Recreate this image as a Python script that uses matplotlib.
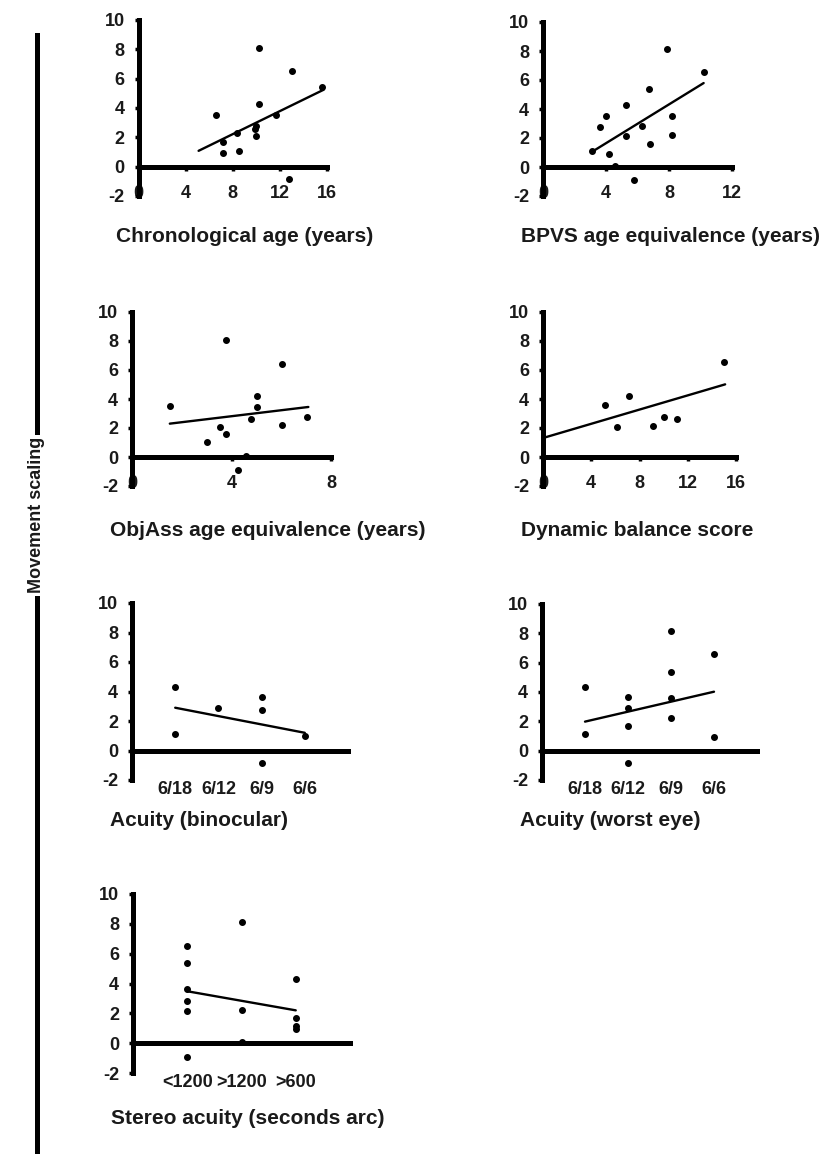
import matplotlib
matplotlib.use("Agg")
import matplotlib.pyplot as plt
from matplotlib.lines import Line2D

plt.rcParams['font.family'] = ['Liberation Sans', 'DejaVu Sans']
plt.rcParams['font.weight'] = 'bold'
plt.rcParams['axes.unicode_minus'] = False

# ---------------- data ----------------
y_label = "Movement scaling"

p1_label = "Chronological age (years)"
p1_x = [6.6, 7.2, 7.2, 8.4, 8.5, 10.2, 10.2, 10.0, 10.0, 9.9, 11.7, 13.0, 12.8, 15.6]
p1_y = [3.5, 0.9, 1.65, 2.3, 1.1, 8.1, 4.3, 2.1, 2.8, 2.6, 3.5, 6.5, -0.85, 5.4]
p1_fit_x = [5.1, 15.7]
p1_fit_y = [1.08, 5.24]
p1_ticks = [0, 4, 8, 12, 16]

p2_label = "BPVS age equivalence (years)"
p2_x = [3.1, 3.6, 4.0, 4.2, 5.3, 5.3, 5.8, 6.3, 6.7, 6.8, 7.9, 8.2, 8.2, 10.2, 4.6]
p2_y = [1.09, 2.75, 3.54, 0.88, 4.26, 2.13, -0.93, 2.82, 5.37, 1.62, 8.15, 3.54, 2.24, 6.53, 0.1]
p2_fit_x = [3.1, 10.2]
p2_fit_y = [1.04, 5.79]
p2_ticks = [0, 4, 8, 12]

p3_label = "ObjAss age equivalence (years)"
p3_x = [1.54, 3.03, 3.53, 3.77, 3.77, 4.27, 4.77, 5.03, 5.03, 6.03, 6.03, 7.02, 4.6]
p3_y = [3.52, 1.03, 2.05, 8.1, 1.59, -0.92, 2.64, 4.18, 3.45, 6.41, 2.23, 2.74, 0.1]
p3_fit_x = [1.52, 7.09]
p3_fit_y = [2.30, 3.45]
p3_ticks = [0, 4, 8]

p4_label = "Dynamic balance score"
p4_x = [5.1, 6.1, 7.1, 9.1, 10.0, 11.1, 15.0]
p4_y = [3.56, 2.05, 4.23, 2.16, 2.74, 2.64, 6.55]
p4_fit_x = [0.0, 15.1]
p4_fit_y = [1.31, 5.01]
p4_ticks = [0, 4, 8, 12, 16]

acuity_cats = ["6/18", "6/12", "6/9", "6/6"]

p5_label = "Acuity (binocular)"
p5_x = [1, 1, 2, 3, 3, 3, 4]
p5_y = [4.3, 1.1, 2.85, 3.6, 2.76, -0.86, 0.95]
p5_fit_x = [1, 4]
p5_fit_y = [2.9, 1.2]

p6_label = "Acuity (worst eye)"
p6_x = [1, 1, 2, 2, 2, 2, 3, 3, 3, 3, 4, 4]
p6_y = [4.32, 1.11, 3.64, 2.89, 1.7, -0.86, 8.18, 5.39, 3.57, 2.2, 6.59, 0.95]
p6_fit_x = [1, 4]
p6_fit_y = [1.98, 4.02]

stereo_cats = ["<1200", ">1200", ">600"]

p7_label = "Stereo acuity (seconds arc)"
p7_x = [1, 1, 1, 1, 1, 1, 2, 2, 2, 3, 3, 3, 3]
p7_y = [6.52, 5.35, 3.6, 2.83, 2.13, -0.9, 8.09, 2.25, 0.1, 4.29, 1.71, 1.15, 0.97]
p7_fit_x = [1, 3]
p7_fit_y = [3.48, 2.2]

y_ticks = [-2, 0, 2, 4, 6, 8, 10]

# ---------------- layout ----------------
W, H = 840, 1154
fig = plt.figure(figsize=(W / 100, H / 100), dpi=100)
TXT = '#1a1a1a'
SPW = 3.6

def make_panel(spine_px, right_px, top_px, bot_px, xlim, xs, ys, fx, fy,
               ticks, ticklabels, label, label_y_px, cat):
    wpx = right_px - spine_px
    hpx = bot_px - top_px
    ax = fig.add_axes([spine_px / W, 1 - bot_px / H, wpx / W, hpx / H])
    ax.set_xlim(*xlim)
    ax.set_ylim(-2, 10)
    ax.patch.set_visible(False)
    for s in ['right', 'bottom']:
        ax.spines[s].set_visible(False)
    ax.spines['left'].set_linewidth(SPW)
    ax.spines['top'].set_position(('data', 0))
    ax.spines['top'].set_linewidth(SPW)
    ax.set_yticks(y_ticks)
    ax.tick_params(axis='y', direction='out', length=3, width=2.5, pad=7,
                   labelsize=13, labelcolor=TXT)
    ax.set_xticks(ticks)
    ax.set_xticklabels(ticklabels)
    ax.tick_params(axis='x', which='both', bottom=False, top=not cat,
                   labeltop=False, labelbottom=True, direction='in',
                   length=3, width=2.5, labelsize=13, labelcolor=TXT,
                   pad=(1 if cat else -8))
    ax.plot(xs, ys, 'o', color='black', ms=4, mec='black', zorder=2, clip_on=False)
    ax.plot(fx, fy, '-', color='black', lw=1.7, zorder=2, solid_capstyle='round')
    ax.text(-22 / wpx, -(label_y_px - bot_px) / hpx, label, transform=ax.transAxes,
            ha='left', va='center', fontsize=15, color=TXT, fontweight='bold')
    return ax

make_panel(138.5, 327, 20, 196, (0, 16), p1_x, p1_y, p1_fit_x, p1_fit_y,
           p1_ticks, [str(t) for t in p1_ticks], p1_label, 237, False)
make_panel(543, 732, 22, 196, (0, 12), p2_x, p2_y, p2_fit_x, p2_fit_y,
           p2_ticks, [str(t) for t in p2_ticks], p2_label, 237, False)
make_panel(132, 331, 312, 486, (0, 8), p3_x, p3_y, p3_fit_x, p3_fit_y,
           p3_ticks, [str(t) for t in p3_ticks], p3_label, 530, False)
make_panel(543, 736, 312, 486, (0, 16), p4_x, p4_y, p4_fit_x, p4_fit_y,
           p4_ticks, [str(t) for t in p4_ticks], p4_label, 530, False)
make_panel(132, 348, 603, 780, (0, 5), p5_x, p5_y, p5_fit_x, p5_fit_y,
           [1, 2, 3, 4], acuity_cats, p5_label, 821, True)
make_panel(542, 757, 604, 780, (0, 5), p6_x, p6_y, p6_fit_x, p6_fit_y,
           [1, 2, 3, 4], acuity_cats, p6_label, 821, True)
make_panel(133, 350, 894, 1073, (0, 4), p7_x, p7_y, p7_fit_x, p7_fit_y,
           [1, 2, 3], stereo_cats, p7_label, 1118, True)

# shared y label with bars
fig.text(37 / W, 1 - 515 / H, y_label, rotation=90, ha='center', va='center',
         fontsize=13, color=TXT, fontweight='bold')
fig.add_artist(Line2D([37 / W, 37 / W], [1 - 35 / H, 1 - 432 / H],
                      transform=fig.transFigure, color='black', lw=3.6))
fig.add_artist(Line2D([37 / W, 37 / W], [1 - 598 / H, 1 - 1152 / H],
                      transform=fig.transFigure, color='black', lw=3.6))

fig.savefig("out.png", dpi=100)
